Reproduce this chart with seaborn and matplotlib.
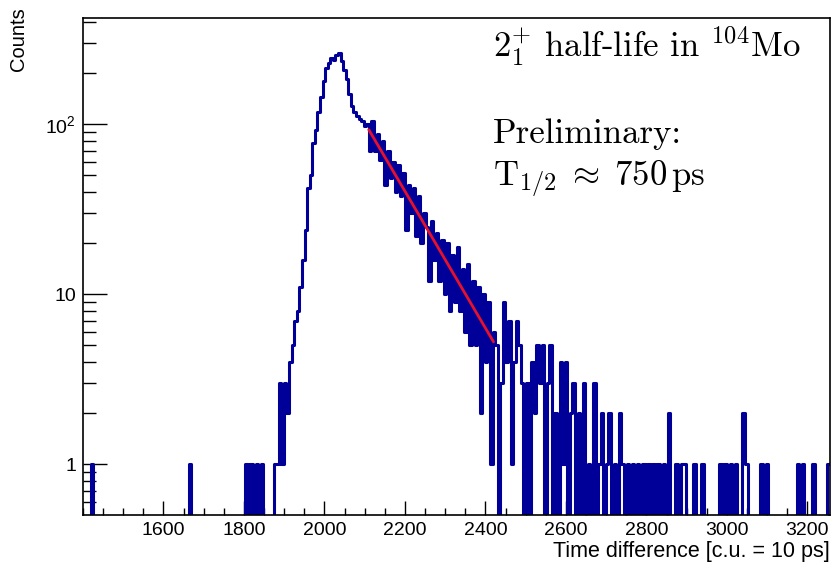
import numpy as np
import pandas as pd
import matplotlib
matplotlib.use('Agg')
import matplotlib.pyplot as plt
import matplotlib.ticker as mticker
import seaborn as sns

# histogram range and binning (c.u.)
x_min, x_max, n_bins = 1400, 3256, 290

# counts per bin, left to right
counts_left = [0, 0, 0, 1, 0, 0, 0, 0, 0, 0,
               0, 0, 0, 0, 0, 0, 0, 0, 0, 0,
               0, 0, 0, 0, 0, 0, 0, 0, 0, 0,
               0, 0, 0, 0, 0, 0, 0, 0, 0, 0,
               0, 1, 0, 0, 0, 0, 0, 0, 0, 0,
               0, 0, 0, 0, 0, 0, 0, 0, 0, 0,
               0, 0, 0, 1, 0, 1, 0, 1, 0, 1,
               0, 0, 0, 0, 1, 1, 3, 1, 3, 2]
counts_rise = [4, 5, 7, 8, 11, 16, 24, 42, 50, 78,
               92, 118, 145, 180, 215, 230, 245, 238, 255, 262,
               235, 210, 185, 150, 128, 118, 112, 108, 104, 98, 100, 70]
counts_decay = [104, 70, 88, 62, 80, 44, 70, 48, 60, 40,
                58, 38, 52, 24, 44, 30, 42, 22, 38, 20,
                30, 25, 12, 27, 16, 23, 12, 21, 10, 20,
                8, 17, 9, 19, 8, 14, 6, 15, 5, 12,
                5, 11, 2, 10, 4, 9, 1, 6, 5]
counts_tail = [0, 3, 9, 4, 7, 1, 4, 7, 5, 3,
               0, 3, 0, 4, 2, 5, 3, 5, 0, 3,
               5, 0, 2, 0, 4, 1, 4, 0, 2, 3,
               0, 2, 0, 3, 0, 1, 0, 3, 0, 1,
               2, 0, 1, 2, 0, 1, 0, 2, 1, 0,
               1, 0, 1, 0, 1, 0, 1, 0, 1, 0,
               1, 0, 1, 0, 1, 0, 2, 0, 0, 1,
               0, 1, 1, 0, 0, 0, 1, 0, 0, 1,
               0, 0, 0, 0, 0, 0, 1, 0, 1, 0,
               1, 0, 1, 0, 0, 2, 1, 0, 0, 0,
               0, 0, 1, 0, 1, 0, 0, 0, 0, 0,
               0, 0, 0, 0, 0, 0, 1, 0, 1, 0,
               0, 0, 1, 0, 0, 0, 0, 0, 1]

# exponential fit, straight on a log axis: end points
fit_x = [2110, 2420]
fit_y = [93, 5.25]

x_ticks = [1600, 1800, 2000, 2200, 2400, 2600, 2800, 3000, 3200]
y_ticks = [1, 10, 100]
y_ticklabels = ['1', '10', r'$\mathregular{10^{2}}$']

counts = counts_left + counts_rise + counts_decay + counts_tail
edges = np.linspace(x_min, x_max, n_bins + 1)
df = pd.DataFrame({'t': 0.5 * (edges[:-1] + edges[1:]), 'n': counts})

sns.set_style('white')
plt.rcParams['font.family'] = ['Liberation Sans', 'DejaVu Sans']
plt.rcParams['mathtext.fontset'] = 'cm'
plt.rcParams['text.color'] = 'black'
plt.rcParams['xtick.color'] = 'black'
plt.rcParams['ytick.color'] = 'black'

fig = plt.figure(figsize=(8.33, 5.65), dpi=100)
ax = fig.add_axes([83 / 833, 1 - 515 / 565, 747 / 833, 497 / 565])

sns.histplot(data=df, x='t', weights='n', bins=list(edges), element='step', fill=False,
             color='#000099', linewidth=2.2, ax=ax)
ax.set_yscale('log', nonpositive='clip')
sns.lineplot(x=fit_x, y=fit_y, color='#e8102a', linewidth=2.0, ax=ax)

ax.set_xlim(x_min, x_max)
ax.set_ylim(0.503, 422)
ax.set_xlabel('')
ax.set_ylabel('')

ax.xaxis.set_major_locator(mticker.FixedLocator(x_ticks))
ax.xaxis.set_minor_locator(mticker.MultipleLocator(50))
ax.yaxis.set_major_locator(mticker.FixedLocator(y_ticks))
ax.yaxis.set_major_formatter(mticker.FixedFormatter(y_ticklabels))
ax.yaxis.set_minor_locator(mticker.LogLocator(base=10, subs=np.arange(2, 10)))
ax.yaxis.set_minor_formatter(mticker.NullFormatter())

ax.tick_params(axis='both', which='both', direction='in', bottom=True, left=True,
               top=False, right=False, labelsize=14, color='black',
               labelcolor='black', width=1.0)
ax.tick_params(axis='x', which='major', length=10, pad=5)
ax.tick_params(axis='x', which='minor', length=5)
ax.tick_params(axis='y', which='major', length=17, pad=5)
ax.tick_params(axis='y', which='minor', length=9)
for s in ax.spines.values():
    s.set_color('black')
    s.set_linewidth(1.2)

fig.text(0.022, 1 - 7 / 565, 'Counts', rotation=90, ha='center', va='top', fontsize=14.5)
fig.text(830 / 833, 1 - 551 / 565, 'Time difference [c.u. = 10 ps]', ha='right',
         va='center', fontsize=15.5)

# annotations in Computer Modern
fig.text(493 / 833, 1 - 57 / 565, r'$2^{+}_{1}$ half-life in $^{104}$Mo',
         family='cmr10', fontsize=25, va='baseline')
fig.text(493 / 833, 1 - 143 / 565, 'Preliminary:', family='cmr10', fontsize=25,
         va='baseline')
fig.text(493 / 833, 1 - 186 / 565, r'T$_{1/2}\;\approx\;750\,$ps', family='cmr10',
         fontsize=25, va='baseline')

plt.savefig('out.png', dpi=100)
plt.close()
